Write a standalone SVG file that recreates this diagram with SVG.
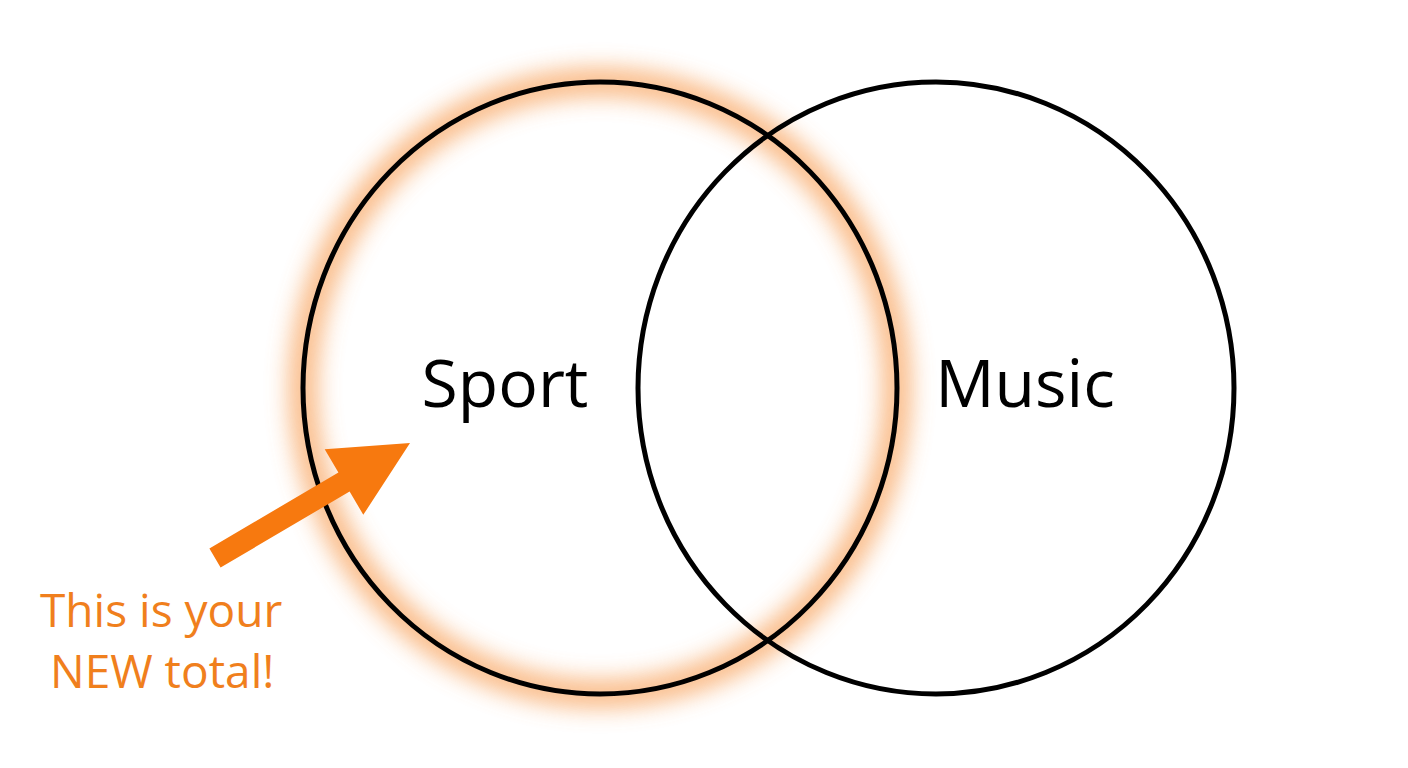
<svg xmlns="http://www.w3.org/2000/svg" width="1408" height="768" viewBox="0 0 1408 768">
<defs>
<style>
.c{fill:none;stroke:#000;stroke-width:5}
.lbl{font-family:"Open Sans","Liberation Sans",sans-serif;font-size:66px;fill:#000;text-anchor:middle}
.note{font-family:"Open Sans","Liberation Sans",sans-serif;font-size:46px;fill:#f07f1d}
</style>
<filter id="glow" x="-20%" y="-20%" width="140%" height="140%"><feGaussianBlur stdDeviation="12"/></filter>
</defs>
<rect width="1408" height="768" fill="#fff"/>
<g id="glow-sport"><ellipse cx="600" cy="388" rx="297" ry="306" fill="none" stroke="#f8a058" stroke-width="26" opacity="0.8" filter="url(#glow)"/></g>
<g id="sport"><ellipse class="c" cx="600" cy="388" rx="297" ry="306"/><text class="lbl" x="505" y="407">Sport</text></g>
<g id="music"><ellipse class="c" cx="936" cy="388" rx="298" ry="306"/><text class="lbl" x="1025" y="407">Music</text></g>
<g id="connectors"><polygon fill="#f7790f" points="220.6,567.5 349.6,491.5 363.3,514.8 410,443 324.7,449.2 338.4,472.5 209.4,548.5"/></g>
<g id="note"><text class="note" x="40" y="627">This is your</text><text class="note" x="50" y="688">NEW total!</text></g>
</svg>
